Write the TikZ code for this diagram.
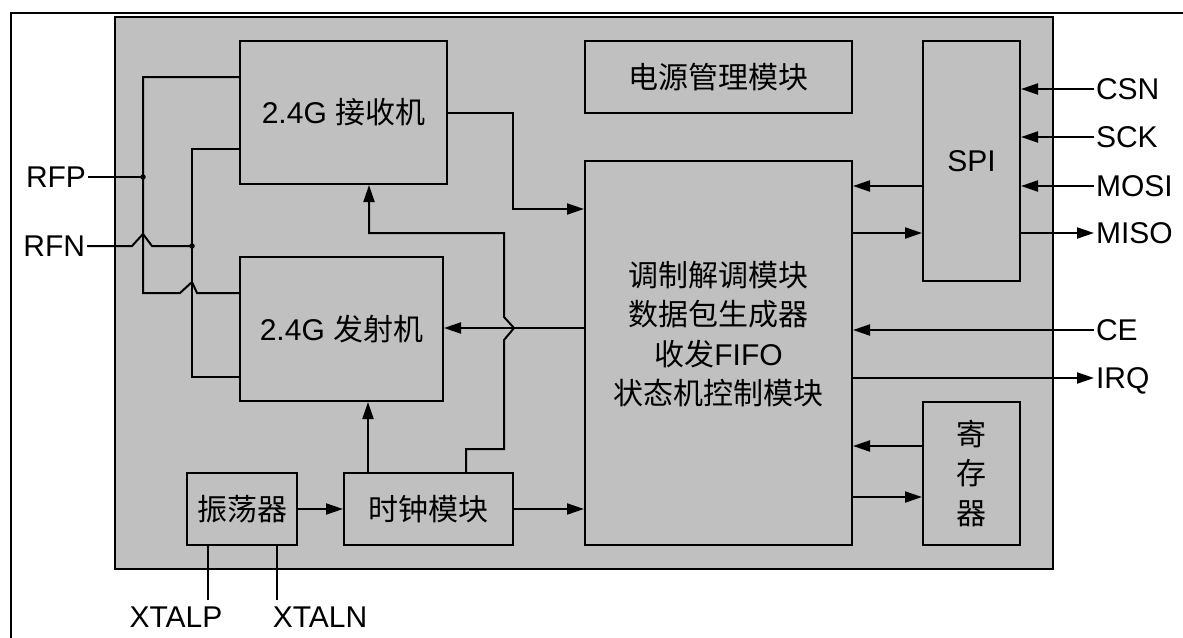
\documentclass[tikz,border=0pt]{standalone}
\usepackage{fontspec}
\setmainfont{Liberation Sans}
\newfontfamily\cjk{Noto Sans CJK SC}
\usetikzlibrary{arrows.meta}
\definecolor{chipgray}{HTML}{C0C0C0}
\begin{document}
\begin{tikzpicture}[x=1pt,y=-1pt,line width=2pt,
  every node/.style={font=\fontsize{30}{39.5}\selectfont},
  box/.style={draw,fill=chipgray,inner sep=0pt,line width=2pt},
  pin/.style={inner sep=1pt,text height=21pt,text depth=0pt},
  arr/.style={-{Triangle[length=17pt,width=11pt]}},
  dot/.style={circle,fill=black,inner sep=0pt,minimum size=5.5pt}]
\useasboundingbox (0,0) rectangle (1183,637);
\draw[line width=2.5pt] (1185,13) -- (11,13) -- (11,640);
\node[box,minimum width=938pt,minimum height=552pt] (chip) at (584,293) {};
% blocks
\node[box,minimum width=207pt,minimum height=143pt] (rx) at (343.5,112.5) {2.4G {\cjk 接收机}};
\node[box,minimum width=203pt,minimum height=144pt] (tx) at (341.5,329) {2.4G {\cjk 发射机}};
\node[box,minimum width=267pt,minimum height=72pt] (pwr) at (718.5,77) {\cjk 电源管理模块};
\node[box,minimum width=97pt,minimum height=240pt] (spi) at (971.5,161) {SPI};
\node[box,minimum width=267pt,minimum height=384pt] (main) at (718.5,353) {};
\node[align=center] (maintxt) at (718.5,334) {{\cjk 调制解调模块}\\{\cjk 数据包生成器}\\{\cjk 收发}FIFO\\{\cjk 状态机控制模块}};
\node[box,minimum width=97pt,minimum height=143pt,align=center] (reg) at (971.5,473.5) {{\cjk 寄}\\{\cjk 存}\\{\cjk 器}};
\node[box,minimum width=110pt,minimum height=72pt] (osc) at (242,509) {\cjk 振荡器};
\node[box,minimum width=169pt,minimum height=72pt] (clk) at (428.5,509) {\cjk 时钟模块};
% pins
\node[pin,anchor=east] (rfp) at (88,177) {RFP};
\node[pin,anchor=east] (rfn) at (87,246) {RFN};
\node[pin,anchor=west] (csn) at (1094,89) {CSN};
\node[pin,anchor=west] (sck) at (1094,137) {SCK};
\node[pin,anchor=west] (mosi) at (1094,186) {MOSI};
\node[pin,anchor=west] (miso) at (1094,233) {MISO};
\node[pin,anchor=west] (ce) at (1094,330) {CE};
\node[pin,anchor=west] (irq) at (1094,378) {IRQ};
\node[pin] (xp) at (176,617) {XTALP};
\node[pin] (xn) at (320,617) {XTALN};
\coordinate (xpend) at (208,600);
\coordinate (xnend) at (277,600);
% RF wiring
\node[dot] (j1) at (143,177) {};
\node[dot] (j2) at (192,246) {};
\draw (rx.west |- 0,77) -- (143,77) -- (143,293) -- (180,293) -- (192,282) -- (197,293) -- (tx.west |- 0,293);
\draw (rx.west |- 0,149) -- (192,149) -- (192,377) -- (tx.west |- 0,377);
\draw (rfp.east) -- (j1.center);
\draw (rfn.east) -- (132,246) -- (143,234) -- (152,246) -- (j2.center);
% internal connections
\draw[arr] (clk.north -| 466,0) -- (466,449) -- (504,449) -- (504,340) -- (514,328) -- (504,317) -- (504,233) -- (369,233) -- (rx.south -| 369,0);
\draw[arr] (main.west |- 0,328) -- (tx.east |- 0,328);
\draw[arr] (rx.east |- 0,113) -- (513,113) -- (513,209) -- (main.west |- 0,209);
\draw[arr] (clk.north -| 368,0) -- (tx.south -| 368,0);
\draw[arr] (osc.east) -- (clk.west);
\draw[arr] (clk.east) -- (main.west |- clk.east);
\draw[arr] (spi.west |- 0,186) -- (main.east |- 0,186);
\draw[arr] (main.east |- 0,233) -- (spi.west |- 0,233);
\draw[arr] (reg.west |- 0,446) -- (main.east |- 0,446);
\draw[arr] (main.east |- 0,497) -- (reg.west |- 0,497);
% pins connections
\draw[arr] (csn.west) -- (spi.east |- csn.west);
\draw[arr] (sck.west) -- (spi.east |- sck.west);
\draw[arr] (mosi.west) -- (spi.east |- mosi.west);
\draw[arr] (spi.east |- miso.west) -- (miso.west);
\draw[arr] (ce.west) -- (main.east |- ce.west);
\draw[arr] (main.east |- irq.west) -- (irq.west);
\draw (osc.south -| xpend) -- (xpend);
\draw (osc.south -| xnend) -- (xnend);
\end{tikzpicture}
\end{document}
